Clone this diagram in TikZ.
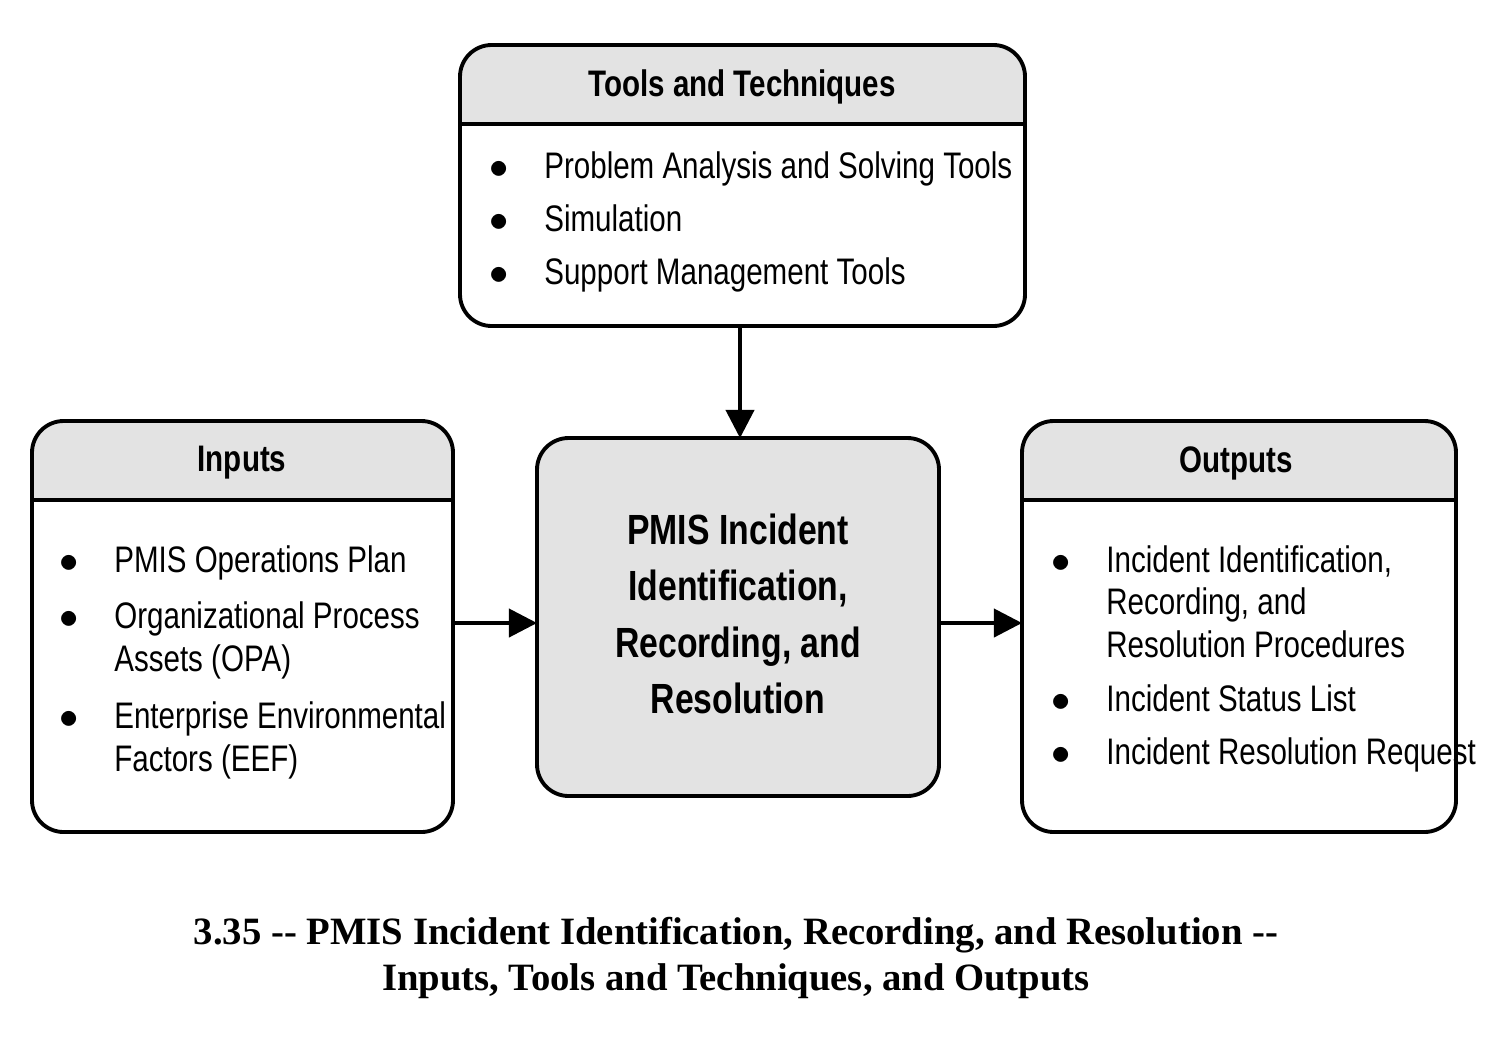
\documentclass[tikz,border=0pt]{standalone}
\usepackage{fontspec}
\setmainfont{Liberation Sans}[FakeStretch=0.8]
\newfontfamily\capfont{Liberation Serif}
\usetikzlibrary{arrows.meta}
\begin{document}
\begin{tikzpicture}[x=0.01cm, y=-0.01cm, line width=1.1pt]
  \tikzstyle{box} = [draw=black, rounded corners=9pt]
  \tikzstyle{hdr} = [fill=gray!22, rounded corners=9pt]
  \tikzstyle{head} = [font=\fontsize{10.5}{12}\selectfont\bfseries]
  \tikzstyle{body} = [anchor=base west, inner sep=0pt, font=\fontsize{10.5}{12.2}\selectfont]
  \tikzstyle{flow} = [-{Triangle[length=8pt, width=8pt]}, line width=1.1pt]

  \useasboundingbox (0,0) rectangle (1501,1048);

  % tools and techniques
  \begin{scope}
    \clip (460,45) rectangle (1025,124);
    \fill[hdr] (460,45) rectangle (1025,326);
  \end{scope}
  \draw (460,124) -- (1025,124);
  \draw[box] (460,45) rectangle (1025,326);
  \coordinate (tb) at (740,326);
  \node[head] (th) at (742,87) {Tools and Techniques};
  \node[body] (tl) at (488,178) {\begin{tabular}[t]{@{}l@{\hspace{10pt}}l@{}}
    $\bullet$ & Problem Analysis and Solving Tools\\[3pt]
    $\bullet$ & Simulation\\[3pt]
    $\bullet$ & Support Management Tools
  \end{tabular}};

  % inputs
  \begin{scope}
    \clip (32,421) rectangle (453,500);
    \fill[hdr] (32,421) rectangle (453,832);
  \end{scope}
  \draw (32,500) -- (453,500);
  \draw[box] (32,421) rectangle (453,832);
  \coordinate (ir) at (453,623);
  \node[head] (ih) at (242,463) {Inputs};
  \node[body] (il) at (58,572) {\begin{tabular}[t]{@{}l@{\hspace{10pt}}l@{}}
    $\bullet$ & PMIS Operations Plan\\[4pt]
    $\bullet$ & Organizational Process\\
              & Assets (OPA)\\[4pt]
    $\bullet$ & Enterprise Environmental\\
              & Factors (EEF)
  \end{tabular}};

  % outputs
  \begin{scope}
    \clip (1022,421) rectangle (1456,500);
    \fill[hdr] (1022,421) rectangle (1456,832);
  \end{scope}
  \draw (1022,500) -- (1456,500);
  \draw[box] (1022,421) rectangle (1456,832);
  \coordinate (ol) at (1022,623);
  \node[head] (oh) at (1236,463) {Outputs};
  \node[body] (olist) at (1050,572) {\begin{tabular}[t]{@{}l@{\hspace{10pt}}l@{}}
    $\bullet$ & Incident Identification,\\
              & Recording, and\\
              & Resolution Procedures\\[3pt]
    $\bullet$ & Incident Status List\\[3pt]
    $\bullet$ & Incident Resolution Request
  \end{tabular}};

  % process
  \draw[box, fill=gray!22] (537,438) rectangle (939,796);
  \coordinate (pt) at (740,438);
  \coordinate (pl) at (537,623);
  \coordinate (pr) at (939,623);
  \node[align=center, font=\fontsize{12}{16}\selectfont\bfseries] (p) at (738,614)
    {PMIS Incident\\Identification,\\Recording, and\\Resolution};

  \draw[flow] (tb) -- (pt);
  \draw[flow] (ir) -- (pl);
  \draw[flow] (pr) -- (ol);

  % caption
  \node[align=center, font=\capfont\fontsize{11}{13}\selectfont\bfseries] (cap) at (736,958)
    {3.35 -- PMIS Incident Identification, Recording, and Resolution --\\
     Inputs, Tools and Techniques, and Outputs};
\end{tikzpicture}
\end{document}
